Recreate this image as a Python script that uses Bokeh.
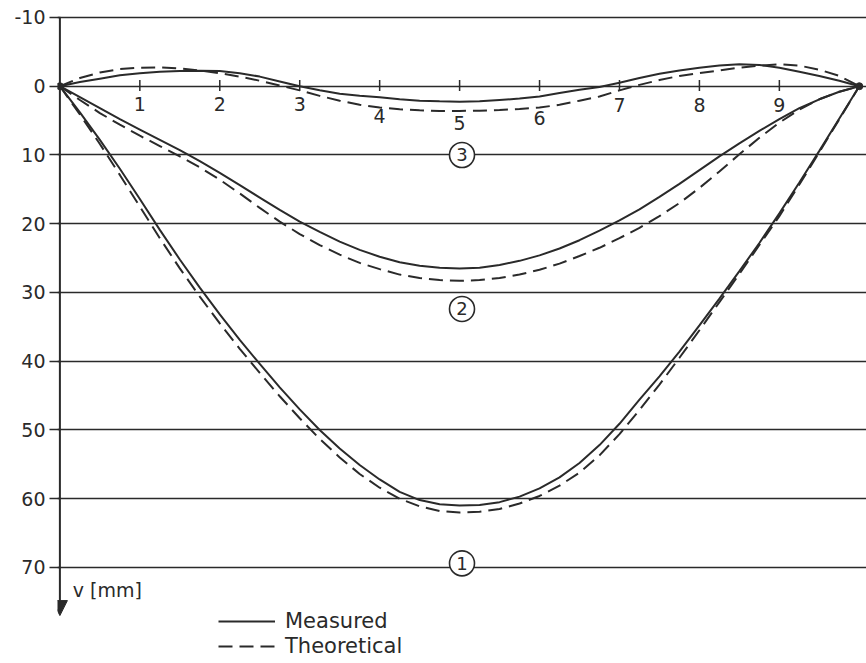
from bokeh.plotting import figure
from bokeh.models import Range1d, FixedTicker, Arrow, NormalHead, Legend, LegendItem, Label
from bokeh.core.properties import value
from bokeh.embed import file_html
from bokeh.resources import INLINE

# ---- data ----
x_pos = [0, 0.25, 0.5, 0.75, 1, 1.25, 1.5, 1.75, 2, 2.25, 2.5, 2.75, 3, 3.25, 3.5, 3.75,
         4, 4.25, 4.5, 4.75, 5, 5.25, 5.5, 5.75, 6, 6.25, 6.5, 6.75, 7, 7.25, 7.5, 7.75,
         8, 8.25, 8.5, 8.75, 9, 9.25, 9.5, 9.75, 10]

measured_1 = [0, 3.8, 7.8, 12.0, 16.4, 20.9, 25.2, 29.3, 33.2, 36.9, 40.4, 43.8, 47.0, 50.0,
              52.7, 55.1, 57.2, 59.0, 60.2, 60.8, 61.0, 60.9, 60.5, 59.7, 58.5, 56.9, 54.8,
              52.2, 49.1, 45.6, 42.2, 38.6, 34.8, 30.9, 26.9, 22.8, 18.5, 14.0, 9.4, 4.7, 0]
theoretical_1 = [0, 4.1, 8.4, 12.9, 17.5, 22.1, 26.5, 30.6, 34.5, 38.2, 41.7, 45.1, 48.3, 51.3,
                 54.0, 56.4, 58.4, 60.0, 61.1, 61.8, 62.0, 61.9, 61.5, 60.7, 59.6, 58.1, 56.2,
                 53.7, 50.6, 47.1, 43.4, 39.5, 35.5, 31.4, 27.3, 23.1, 18.9, 14.3, 9.6, 4.8, 0]

measured_2 = [0, 1.6, 3.2, 4.8, 6.3, 7.8, 9.3, 10.9, 12.6, 14.4, 16.2, 18.0, 19.7, 21.2, 22.6,
              23.8, 24.8, 25.6, 26.1, 26.4, 26.5, 26.4, 26.0, 25.4, 24.6, 23.6, 22.4, 21.0,
              19.5, 17.9, 16.1, 14.2, 12.2, 10.2, 8.3, 6.5, 4.8, 3.2, 1.9, 0.8, 0]
theoretical_2 = [0, 2.0, 3.9, 5.6, 7.2, 8.7, 10.2, 11.8, 13.6, 15.6, 17.7, 19.7, 21.5, 23.1,
                 24.5, 25.7, 26.6, 27.4, 27.9, 28.2, 28.3, 28.2, 27.9, 27.4, 26.7, 25.8, 24.7,
                 23.5, 22.1, 20.6, 18.9, 17.0, 14.8, 12.4, 9.9, 7.5, 5.3, 3.4, 1.9, 0.8, 0]

measured_3 = [0, -0.6, -1.1, -1.6, -1.9, -2.1, -2.2, -2.25, -2.2, -1.9, -1.4, -0.7, 0.0, 0.6,
              1.1, 1.4, 1.6, 1.9, 2.1, 2.2, 2.25, 2.2, 2.0, 1.8, 1.5, 1.0, 0.5, 0.1, -0.5,
              -1.2, -1.8, -2.3, -2.7, -3.0, -3.2, -3.1, -2.7, -2.1, -1.5, -0.8, 0]
theoretical_3 = [0, -1.2, -2.0, -2.5, -2.7, -2.75, -2.6, -2.3, -1.9, -1.4, -0.8, -0.1, 0.6,
                 1.4, 2.1, 2.7, 3.1, 3.35, 3.5, 3.6, 3.6, 3.55, 3.45, 3.3, 3.1, 2.7, 2.1, 1.5,
                 0.6, -0.2, -0.9, -1.5, -1.9, -2.3, -2.7, -3.0, -3.2, -3.0, -2.4, -1.5, 0]

y_ticks = [-10, 0, 10, 20, 30, 40, 50, 60, 70]
x_ticks = [1, 2, 3, 4, 5, 6, 7, 8, 9]
x_tick_labels = ["1", "2", "3", "4", "5", "6", "7", "8", "9"]
curve_ids = ["1", "2", "3"]

# ---- layout / style constants ----
ink = "#2a2a2a"
font = "DejaVu Sans"
x_label_v = [2.6, 2.6, 2.6, 4.4, 5.3, 4.6, 2.8, 2.8, 2.8]
id_x = [5.03, 5.03, 5.03]
id_v = [69.4, 32.4, 10.0]

p = figure(width=866, height=663, output_backend="svg", toolbar_location=None,
           x_range=Range1d(-0.03, 10.09), y_range=Range1d(83.97, -12.47),
           x_axis_location=None,
           min_border_left=57, min_border_right=0, min_border_top=0, min_border_bottom=0)
p.outline_line_color = None
p.background_fill_color = "white"
p.border_fill_color = "white"

p.xgrid.visible = False
p.ygrid.ticker = FixedTicker(ticks=y_ticks)
p.ygrid.grid_line_color = ink
p.ygrid.grid_line_width = 1.6

ax = p.yaxis[0]
ax.ticker = FixedTicker(ticks=y_ticks)
ax.major_label_overrides = {-10: "-10"}
ax.axis_line_color = None
ax.major_tick_out = 8
ax.major_tick_in = 3
ax.major_tick_line_color = ink
ax.major_tick_line_width = 1.5
ax.minor_tick_line_color = None
ax.major_label_text_font = font
ax.major_label_text_font_size = "19px"
ax.major_label_text_color = ink
ax.major_label_standoff = 4

# vertical axis line with arrow
p.add_layout(Arrow(end=NormalHead(size=15, fill_color=ink, line_color=ink),
                   x_start=0, y_start=-10, x_end=0, y_end=77,
                   line_color=ink, line_width=2))

# x ticks on the zero line
p.segment(x0=x_ticks, y0=[-0.9] * len(x_ticks), x1=x_ticks, y1=[0.7] * len(x_ticks),
          line_color=ink, line_width=1.5)
p.text(x=x_ticks, y=x_label_v, text=x_tick_labels, text_font=value(font),
       text_font_size="19px", text_color=ink, text_align="center", text_baseline="middle")

# curves
dash = "14 7"
r_m1 = p.line(x_pos, measured_1, line_color=ink, line_width=2)
r_t1 = p.line(x_pos, theoretical_1, line_color=ink, line_width=2, line_dash=dash)
p.line(x_pos, measured_2, line_color=ink, line_width=2)
p.line(x_pos, theoretical_2, line_color=ink, line_width=2, line_dash=dash)
p.line(x_pos, measured_3, line_color=ink, line_width=2)
p.line(x_pos, theoretical_3, line_color=ink, line_width=2, line_dash=dash)

# support points at the curve ends
p.scatter(x=[x_pos[0], x_pos[-1]], y=[measured_1[0], measured_1[-1]], marker="circle",
          size=7, fill_color=ink, line_color=ink)

# circled curve numbers
p.scatter(x=id_x, y=id_v, marker="circle", size=25, fill_color="white",
          line_color=ink, line_width=1.6)
p.text(x=id_x, y=id_v, text=curve_ids, text_font=value(font), text_font_size="18px",
       text_color=ink, text_align="center", text_baseline="middle")

# axis label
p.add_layout(Label(x=0.16, y=73.3, text="v [mm]", text_font=font, text_font_size="19px",
                   text_color=ink, text_baseline="middle"))

legend = Legend(items=[LegendItem(label="Measured", renderers=[r_m1]),
                       LegendItem(label="Theoretical", renderers=[r_t1])],
                location=(161, 5), orientation="vertical",
                glyph_width=57, glyph_height=20, label_height=20, spacing=1,
                padding=0, margin=0, border_line_color=None, background_fill_alpha=0,
                label_text_font=font, label_text_font_size="21px", label_text_color=ink,
                label_standoff=10)
p.add_layout(legend)

open("out.html", "w").write(file_html(p, INLINE))
